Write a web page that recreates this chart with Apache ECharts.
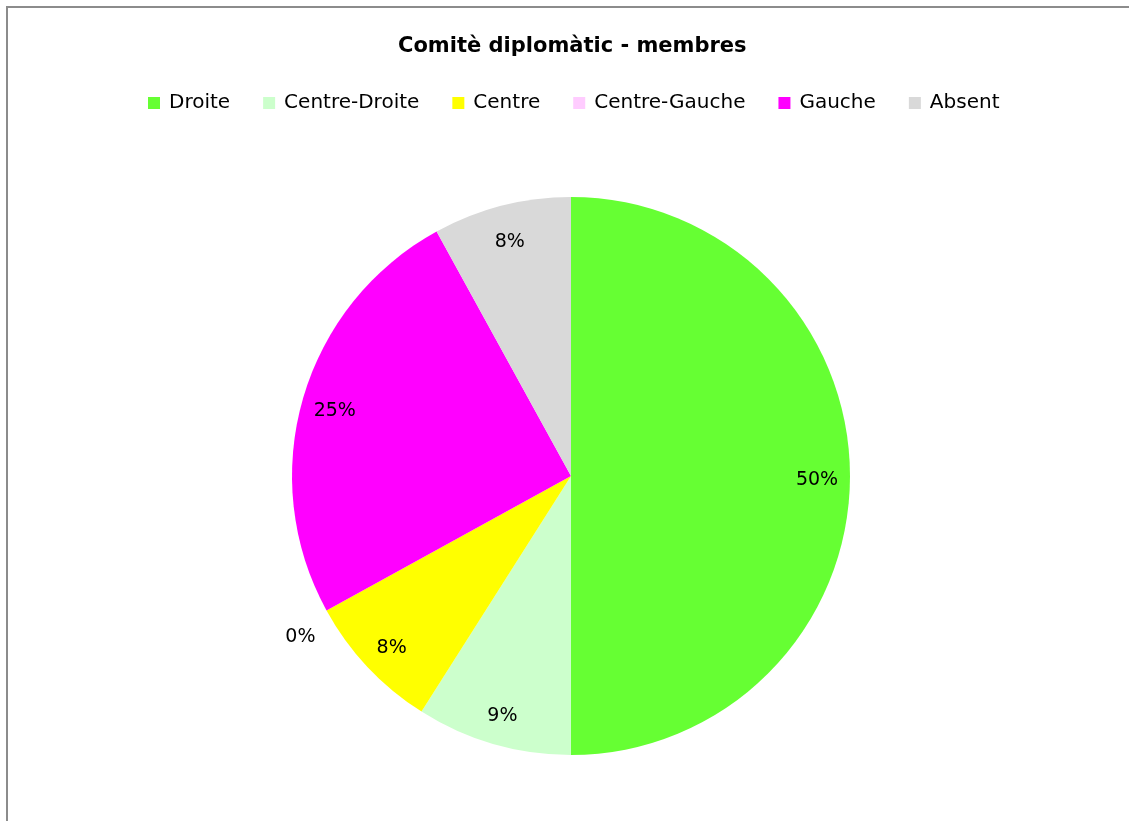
<!DOCTYPE html>
<html>
<head>
<meta charset="utf-8">
<script src="https://cdn.jsdelivr.net/npm/echarts@6/dist/echarts.min.js"></script>
<style>
  html, body { margin: 0; padding: 0; background: #fff; }
  #frame {
    position: absolute; left: 6px; top: 6px; width: 1140px; height: 830px;
    border-left: 2px solid #8c8c8c; border-top: 2px solid #8c8c8c;
  }
  #chart { position: absolute; left: 0; top: 0; width: 1129px; height: 821px; }
</style>
</head>
<body>
<div id="frame"></div>
<div id="chart"></div>
<script>
// Committee composition by political group (percent of members)
const titleText = 'Comitè diplomàtic - membres';
const categories = ['Droite', 'Centre-Droite', 'Centre', 'Centre-Gauche', 'Gauche', 'Absent'];
const shares = [50, 9, 8, 0, 25, 8];
const colors = ['#66FF33', '#CCFFCC', '#FFFF00', '#FFCCFF', '#FF00FF', '#D9D9D9'];

const FONT = '"DejaVu Sans"';
const center = [571, 476];

const sliceData = categories.map((name, i) => ({ name, value: shares[i] }));

const chart = echarts.init(document.getElementById('chart'), null, { renderer: 'canvas' });
chart.setOption({
  backgroundColor: 'transparent',
  color: colors,
  animation: false,
  title: {
    text: titleText,
    left: 393,
    top: 31,
    textStyle: { fontFamily: FONT, fontSize: 21, fontWeight: 'bold', color: '#000' }
  },
  legend: {
    data: categories,
    top: 88,
    left: 143,
    icon: 'rect',
    itemWidth: 12,
    itemHeight: 12,
    itemGap: 33,
    selectedMode: false,
    textStyle: { fontFamily: FONT, fontSize: 20, color: '#000', padding: [0, 0, 0, 4] }
  },
  series: [
    {
      // the filled pie
      type: 'pie',
      center: center,
      radius: [0, 279],
      startAngle: 90,
      clockwise: true,
      avoidLabelOverlap: false,
      silent: true,
      data: sliceData.map((d, i) => ({ ...d, itemStyle: { color: colors[i] } })),
      itemStyle: { borderWidth: 0 },
      label: { show: false },
      labelLine: { show: false }
    },
    {
      // transparent ring carrying the percentage labels near the rim
      type: 'pie',
      center: center,
      radius: [236, 250],
      startAngle: 90,
      clockwise: true,
      avoidLabelOverlap: false,
      silent: true,
      data: sliceData,
      itemStyle: { color: 'rgba(0,0,0,0)', borderWidth: 0 },
      label: {
        show: true,
        position: 'inside',
        formatter: p => p.value + '%',
        fontFamily: FONT,
        fontSize: 19,
        color: '#000'
      },
      labelLine: { show: false },
      // empty slices get their label pushed outside the rim
      labelLayout: p => (shares[p.dataIndex] === 0 ? { dx: -55, dy: 43 } : { dy: 4 })
    }
  ]
});
</script>
</body>
</html>
